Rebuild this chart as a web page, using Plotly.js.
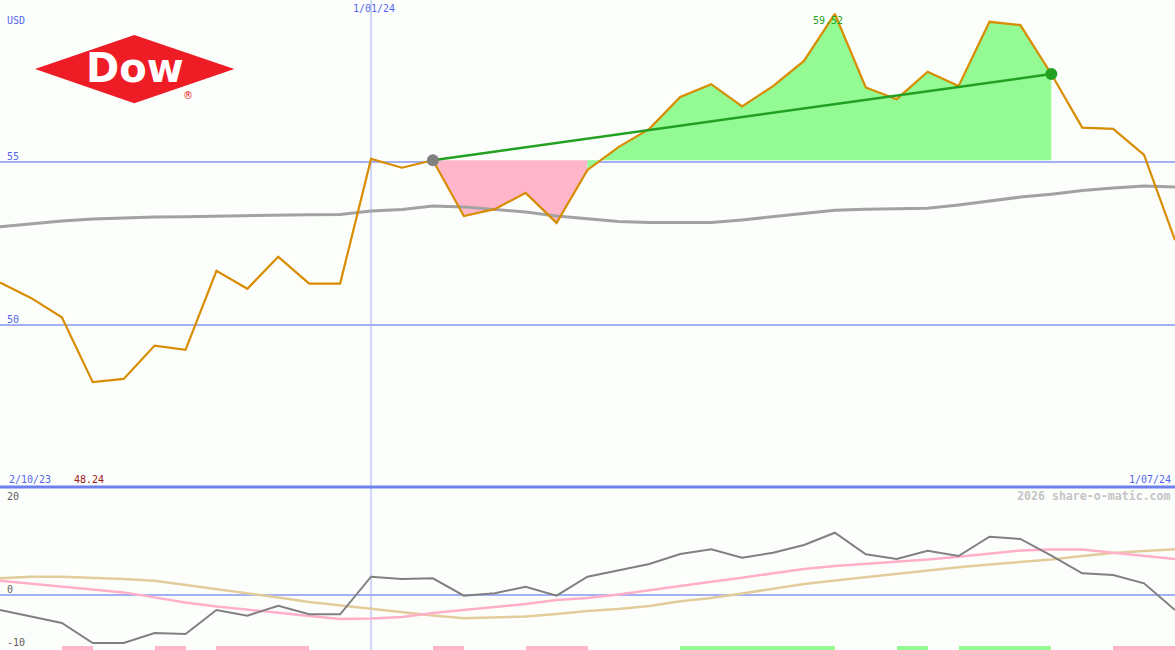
<!DOCTYPE html>
<html><head><meta charset="utf-8">
<script src="https://cdn.plot.ly/plotly-3.0.1.min.js"></script>
<style>html,body{margin:0;padding:0;background:#fcfefc;}#chart{width:1175px;height:650px;}</style>
</head><body><div id="chart"></div>
<script>
// weekly closes, 9 Oct 2023 .. 1 Jul 2024
const dates = ["2023-10-09","2023-10-16","2023-10-23","2023-10-30","2023-11-06","2023-11-13","2023-11-20","2023-11-27","2023-12-04","2023-12-11","2023-12-18","2023-12-25","2024-01-01","2024-01-08","2024-01-15","2024-01-22","2024-01-29","2024-02-05","2024-02-12","2024-02-19","2024-02-26","2024-03-04","2024-03-11","2024-03-18","2024-03-25","2024-04-01","2024-04-08","2024-04-15","2024-04-22","2024-04-29","2024-05-06","2024-05-13","2024-05-20","2024-05-27","2024-06-03","2024-06-10","2024-06-17","2024-06-24","2024-07-01"];
const price = [51.29,50.82,50.23,48.24,48.34,49.36,49.23,51.65,51.10,52.08,51.26,51.26,55.08,54.81,55.04,53.33,53.54,54.04,53.12,54.74,55.44,56.00,56.98,57.37,56.69,57.31,58.08,59.52,57.27,56.91,57.75,57.31,59.28,59.18,57.68,56.04,56.00,55.20,52.59];
const movingAvg = [53.00,53.09,53.18,53.24,53.28,53.30,53.31,53.33,53.35,53.36,53.37,53.38,53.48,53.53,53.64,53.61,53.53,53.45,53.33,53.24,53.16,53.13,53.13,53.13,53.21,53.31,53.42,53.51,53.54,53.55,53.57,53.67,53.79,53.91,54.00,54.11,54.19,54.25,54.22];
const oscillator = [-2.88,-4.13,-5.38,-9.23,-9.23,-7.31,-7.50,-2.88,-3.98,-2.06,-3.71,-3.71,3.52,3.08,3.21,-0.13,0.33,1.60,-0.13,3.52,4.81,5.96,7.88,8.79,7.17,8.13,9.62,11.98,7.83,6.92,8.52,7.50,11.21,10.77,7.56,4.17,3.85,2.25,-2.88];
const pinkLine = [2.75,2.19,1.62,1.04,0.50,-0.46,-1.44,-2.21,-2.77,-3.40,-4.04,-4.62,-4.50,-4.23,-3.46,-2.88,-2.31,-1.73,-0.96,-0.60,0.10,0.96,1.73,2.56,3.33,4.17,5.00,5.58,5.96,6.42,6.83,7.37,7.98,8.56,8.75,8.75,8.12,7.50,6.92];
const tanLine = [3.21,3.52,3.52,3.37,3.08,2.73,1.92,1.25,0.44,-0.48,-1.35,-2.02,-2.63,-3.27,-3.94,-4.48,-4.33,-4.13,-3.65,-3.08,-2.69,-2.12,-1.21,-0.58,0.29,1.21,2.12,2.79,3.46,4.13,4.71,5.33,5.87,6.35,6.83,7.50,8.08,8.46,8.79];
const signal = [0,0,-1,0,0,-1,0,-1,-1,-1,0,0,0,0,-1,0,0,-1,-1,0,0,0,1,1,1,1,1,0,0,1,0,1,1,1,0,0,-1,-1,0];
const trendStart = 14, trendEnd = 34;
const mainTicks = [50, 55];
const lowTicks = [0];
const lowLabels = ["20", "0", "-10"];
const yearLine = "2024-01-01";
const labels = {unit: "USD", yearLine: "1/01/24", start: "2/10/23", end: "1/07/24", high: "59.52", low: "48.24", credit: "2026 share-o-matic.com"};

const W = 1175, H = 650, SPLIT = 1 - 487 / 650;
const BLUE = '#5566ee', GRID = '#a4b0f4';
const MONO = 'DejaVu Sans Mono, monospace';
const WEEK = 7 * 24 * 3600 * 1000;
const px = v => v / W, py = v => 1 - v / H;

const traces = [];
// fills between price and trend-start level
const base = price[trendStart];
let seg = [];
function flush(color) {
  if (!seg.length) return;
  const xs = [dates[seg[0]]].concat(seg.map(k => dates[k + 1]));
  const ys = [price[seg[0]]].concat(seg.map(k => price[k + 1]));
  traces.push({x: xs, y: xs.map(() => base), xaxis: 'x', yaxis: 'y', mode: 'lines', line: {width: 0}, hoverinfo: 'skip'});
  traces.push({x: xs, y: ys, xaxis: 'x', yaxis: 'y', mode: 'lines', line: {width: 0}, fill: 'tonexty', fillcolor: color, hoverinfo: 'skip'});
  seg = [];
}
let cur = null;
for (let k = trendStart; k < trendEnd; k++) {
  const c = price[k + 1] >= base ? '#94fa94' : '#ffb6ca';
  if (c !== cur) { flush(cur); cur = c; }
  seg.push(k);
}
flush(cur);

traces.push({x: dates, y: movingAvg, xaxis: 'x', yaxis: 'y', mode: 'lines', line: {color: '#a2a2a2', width: 3}});
traces.push({x: dates, y: price, xaxis: 'x', yaxis: 'y', mode: 'lines', line: {color: '#d88c00', width: 2.2}});
traces.push({x: [dates[trendStart], dates[trendEnd]], y: [price[trendStart], price[trendEnd]], xaxis: 'x', yaxis: 'y',
  mode: 'lines+markers', line: {color: '#22a022', width: 2.5}, marker: {size: 12, color: ['#808080', '#22a022']}});

// lower panel
traces.push({x: dates, y: tanLine, xaxis: 'x', yaxis: 'y2', mode: 'lines', line: {color: '#e2cc9c', width: 2.5}});
traces.push({x: dates, y: pinkLine, xaxis: 'x', yaxis: 'y2', mode: 'lines', line: {color: '#ffb0c8', width: 2.5}});
traces.push({x: dates, y: oscillator, xaxis: 'x', yaxis: 'y2', mode: 'lines', line: {color: '#808080', width: 2}});

const lowRange = [-10.58, 20.77];
[[1, '#94fa94'], [-1, '#ffb6ca']].forEach(([s, col]) => {
  const xs = dates.filter((d, i) => signal[i] === s);
  traces.push({type: 'bar', x: xs, y: xs.map(() => 0.75), base: lowRange[0], offset: 0, width: WEEK,
    xaxis: 'x', yaxis: 'y2', marker: {color: col, line: {width: 0}}, hoverinfo: 'skip'});
});

const ann = (text, x, y, o) => Object.assign({text, x, y, xref: 'paper', yref: 'paper', showarrow: false,
  xanchor: 'left', yanchor: 'middle', font: {family: MONO, size: 10, color: BLUE}}, o || {});
const hiIdx = price.indexOf(Math.max(...price));

const annotations = [
  ann(labels.unit, px(5), py(20)),
  ann(String(mainTicks[1]), px(5), py(156)),
  ann(String(mainTicks[0]), px(5), py(319)),
  ann(labels.yearLine, yearLine, py(9), {xref: 'x', xanchor: 'center', xshift: 3}),
  ann(labels.high, dates[hiIdx], py(21), {xref: 'x', xanchor: 'center', xshift: -7, font: {family: MONO, size: 10, color: '#22a022'}}),
  ann(labels.start, px(7), py(479)),
  ann(labels.low, px(72), py(479), {font: {family: MONO, size: 10, color: '#a01818'}}),
  ann(labels.end, px(1173), py(479), {xanchor: 'right'}),
  ann(lowLabels[0], px(5), py(496), {font: {family: MONO, size: 10, color: '#606060'}}),
  ann(lowLabels[1], px(5), py(589), {font: {family: MONO, size: 10, color: '#606060'}}),
  ann(lowLabels[2], px(5), py(642), {font: {family: MONO, size: 10, color: '#606060'}}),
  ann('<b>' + labels.credit + '</b>', px(1173), py(496), {xanchor: 'right', font: {family: MONO, size: 11.6, color: '#c4c4c4'}}),
  // logo
  ann('<b>Dow</b>', px(135), py(68), {xanchor: 'center', font: {family: 'DejaVu Sans', size: 40, color: '#ffffff'}}),
  ann('®', px(188), py(95), {xanchor: 'center', font: {family: 'DejaVu Sans', size: 10, color: '#ee1c25'}})
];

const shapes = [
  {type: 'line', xref: 'x', yref: 'paper', x0: yearLine, x1: yearLine, y0: 0, y1: 1, line: {color: GRID, width: 1}, layer: 'below'},
  {type: 'line', xref: 'paper', yref: 'paper', x0: 0, x1: 1, y0: SPLIT, y1: SPLIT, line: {color: '#6e80ee', width: 3}},
  {type: 'path', xref: 'paper', yref: 'paper', fillcolor: '#ee1c25', line: {width: 0},
   path: `M ${px(35)},${py(69)} L ${px(134.3)},${py(35)} L ${px(234.3)},${py(69)} L ${px(134.3)},${py(103.3)} Z`}
];

const layout = {
  width: W, height: H, margin: {l: 0, r: 0, t: 0, b: 0, pad: 0},
  paper_bgcolor: '#fcfefc', plot_bgcolor: '#fcfefc', showlegend: false, bargap: 0,
  xaxis: {type: 'date', range: [dates[0], dates[dates.length - 1]], showgrid: false, zeroline: false,
    showticklabels: false, ticks: '', showline: false, anchor: 'y2'},
  yaxis: {domain: [SPLIT, 1], range: [45.028, 59.948], tickvals: mainTicks, showticklabels: false,
    gridcolor: GRID, gridwidth: 2, zeroline: false, showline: false, ticks: ''},
  yaxis2: {domain: [0, SPLIT], range: lowRange, tickvals: lowTicks, showticklabels: false,
    gridcolor: GRID, gridwidth: 2, zeroline: false, showline: false, ticks: ''},
  shapes, annotations
};
Plotly.newPlot('chart', traces, layout, {staticPlot: true, displayModeBar: false});
</script></body></html>
